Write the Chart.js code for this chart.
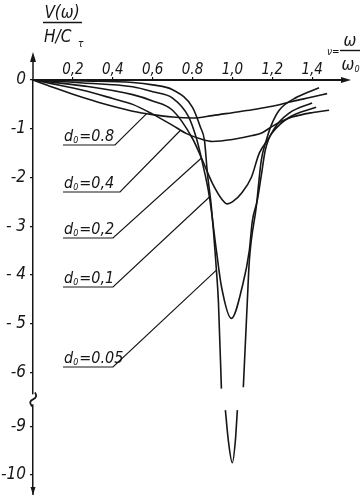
<!DOCTYPE html>
<html>
<head>
<meta charset="utf-8">
<script src="https://cdn.jsdelivr.net/npm/chart.js@4.4.0/dist/chart.umd.min.js"></script>
<style>
  html, body { margin: 0; padding: 0; background: #fff; }
  canvas { display: block; }
</style>
</head>
<body>
<canvas id="chart" width="360" height="495"></canvas>
<script>
// damping labels, one per curve
const dampings = ['0.8', '0,4', '0,2', '0,1', '0.05'];

// nu = omega/omega0, v = V(omega)/(H/C)
const nu08 = [0, 0.1, 0.2, 0.3, 0.4, 0.5, 0.6, 0.7, 0.8, 0.9, 1.0, 1.1, 1.2, 1.3, 1.4, 1.475];
const v08  = [0, -0.15, -0.29, -0.42, -0.54, -0.64, -0.71, -0.76, -0.78, -0.73, -0.67, -0.61, -0.54, -0.44, -0.35, -0.28];

const nu04 = [0, 0.1, 0.25, 0.4, 0.5, 0.6, 0.7, 0.77, 0.85, 0.9, 1.0, 1.1, 1.15, 1.2, 1.25, 1.3, 1.4, 1.485];
const v04  = [0, -0.08, -0.21, -0.38, -0.5, -0.7, -0.93, -1.1, -1.22, -1.26, -1.22, -1.14, -1.08, -0.95, -0.84, -0.76, -0.67, -0.62];

const nu02 = [0, 0.25, 0.5, 0.6, 0.7, 0.8, 0.845, 0.9, 0.95, 0.975, 1.0, 1.05, 1.095, 1.135, 1.175, 1.2, 1.28, 1.42];
const v02  = [0, -0.12, -0.3, -0.43, -0.62, -1.2, -1.6, -2.12, -2.46, -2.54, -2.5, -2.3, -2.0, -1.5, -1.24, -1.08, -0.78, -0.56];

const nu01 = [0, 0.25, 0.5, 0.6, 0.7, 0.78, 0.82, 0.85, 0.885, 0.92, 0.945, 0.995, 1.05, 1.085, 1.1, 1.125, 1.145, 1.165, 1.21, 1.285, 1.4];
const v01  = [0, -0.06, -0.14, -0.24, -0.37, -0.75, -1.2, -1.7, -2.4, -3.5, -4.23, -4.89, -4.23, -3.5, -2.9, -2.47, -1.96, -1.44, -1.0, -0.68, -0.47];

// null = where the axis is broken
const nu005 = [0, 0.25, 0.5, 0.6, 0.7, 0.8, 0.84, 0.86, 0.875, 0.895, 0.92, 0.93, 0.945, 0.955, 0.965, 0.98, 1.0, 1.015, 1.025, 1.045, 1.055, 1.075, 1.085, 1.12, 1.145, 1.17, 1.195, 1.235, 1.325, 1.435];
const v005  = [0, -0.02, -0.05, -0.1, -0.2, -0.56, -0.97, -1.24, -1.92, -2.62, -3.9, -4.54, -6.33, null, -8.67, -9.3, -9.75, -9.3, -8.67, null, -6.3, -4.54, -3.71, -2.6, -1.65, -1.24, -0.93, -0.62, -0.35, -0.16];

const xTicks = [0.2, 0.4, 0.6, 0.8, 1.0, 1.2, 1.4];
const xTickLabels = ['0,2', '0,4', '0,6', '0.8', '1,0', '1,2', '1,4'];
const yTicks = [0, -1, -2, -3, -4, -5, -6, -9, -10];
const yTickLabels = ['0', '-1', '-2', '- 3', '- 4', '- 5', '-6', '-9', '-10'];

// y axis skips from -6 to -9
const BREAK = -6.5, GAP = 1.9;
function toAxis(v) { return v === null ? null : (v < BREAK ? v + GAP : v); }
function series(nu, v) { return nu.map((n, i) => ({ x: n, y: toAxis(v[i]) })); }

const FONT = "'Liberation Sans Narrow', 'DejaVu Sans Condensed', 'DejaVu Sans', sans-serif";
const INK = '#161616';

// where the labels sit (px) and the curve point each leader goes to
const labelSpots = [
  { x0: 63, x1: 115, y: 145, tip: [0.57, -0.69] },
  { x0: 63, x1: 120, y: 192, tip: [0.74, -1.03] },
  { x0: 63, x1: 113, y: 238, tip: [0.845, -1.6] },
  { x0: 63, x1: 113, y: 287, tip: [0.885, -2.4] },
  { x0: 63, x1: 113, y: 367, tip: [0.92, -3.9] }
];

// kill the half-label padding chart.js adds at the axis ends
function noEndPadding(s) {
  s.paddingTop = 0; s.paddingBottom = 0; s.paddingLeft = 0; s.paddingRight = 0;
}

const decor = {
  id: 'decor',
  afterDraw(chart) {
    const ctx = chart.ctx, a = chart.chartArea;
    const sx = chart.scales.x, sy = chart.scales.y;
    ctx.save();
    ctx.strokeStyle = INK; ctx.fillStyle = INK;

    // y axis extensions + arrows
    ctx.lineWidth = 1.5;
    ctx.beginPath();
    ctx.moveTo(a.left, a.top); ctx.lineTo(a.left, 58);
    ctx.moveTo(a.left, a.bottom); ctx.lineTo(a.left, 495);
    ctx.stroke();
    ctx.beginPath();
    ctx.moveTo(a.left, 52); ctx.lineTo(a.left - 3, 62); ctx.lineTo(a.left + 3, 62); ctx.closePath();
    ctx.fill();
    ctx.beginPath();
    ctx.moveTo(a.left, 495); ctx.lineTo(a.left - 2.5, 487); ctx.lineTo(a.left + 2.5, 487); ctx.closePath();
    ctx.fill();
    // x axis arrow
    ctx.beginPath();
    ctx.moveTo(a.right + 4, a.top); ctx.lineTo(a.right - 6, a.top - 3); ctx.lineTo(a.right - 6, a.top + 3); ctx.closePath();
    ctx.fill();

    // axis break mark
    const yb = (sy.getPixelForValue(-6) + sy.getPixelForValue(toAxis(-9))) / 2;
    ctx.fillStyle = '#fff';
    ctx.fillRect(a.left - 2, yb - 5, 4, 10);
    ctx.fillStyle = INK;
    ctx.lineWidth = 1.8;
    ctx.beginPath();
    ctx.moveTo(a.left + 2, yb - 7);
    ctx.quadraticCurveTo(a.left + 5, yb - 2, a.left, yb);
    ctx.quadraticCurveTo(a.left - 5, yb + 2, a.left - 1, yb + 7);
    ctx.stroke();

    // y title: V(w) over H/C_t
    ctx.font = 'italic 17px ' + FONT;
    ctx.textAlign = 'center'; ctx.textBaseline = 'alphabetic';
    ctx.fillText('V(ω)', 62, 18);
    ctx.lineWidth = 1.4;
    ctx.beginPath(); ctx.moveTo(43, 22.5); ctx.lineTo(82, 22.5); ctx.stroke();
    ctx.textAlign = 'left';
    ctx.fillText('H/C', 44, 42);
    ctx.font = 'italic 10px ' + FONT;
    ctx.fillText('τ', 78, 47);

    // x title: nu = w/w0
    ctx.font = 'italic 10px ' + FONT;
    ctx.fillText('ν=', 327, 55);
    ctx.font = 'italic 17px ' + FONT;
    ctx.textAlign = 'center';
    ctx.fillText('ω', 350, 46);
    ctx.beginPath(); ctx.moveTo(340, 50.5); ctx.lineTo(360, 50.5); ctx.stroke();
    ctx.fillText('ω', 348, 70);
    ctx.font = 'italic 9px ' + FONT;
    ctx.fillText('0', 357, 72);

    // damping labels with leader lines
    ctx.lineWidth = 1.2;
    labelSpots.forEach((s, i) => {
      const tx = sx.getPixelForValue(s.tip[0]);
      const ty = sy.getPixelForValue(toAxis(s.tip[1]));
      ctx.beginPath();
      ctx.moveTo(s.x0, s.y); ctx.lineTo(s.x1, s.y); ctx.lineTo(tx, ty);
      ctx.stroke();
      ctx.textAlign = 'left';
      ctx.font = 'italic 16px ' + FONT;
      ctx.fillText('d', s.x0 + 1, s.y - 4);
      const dw = ctx.measureText('d').width;
      ctx.font = 'italic 9px ' + FONT;
      ctx.fillText('0', s.x0 + 1 + dw, s.y - 2);
      const zw = ctx.measureText('0').width;
      ctx.font = 'italic 16px ' + FONT;
      ctx.fillText('=' + dampings[i], s.x0 + 1 + dw + zw + 1, s.y - 4);
    });
    ctx.restore();
  }
};

const lineStyle = {
  borderColor: INK, borderWidth: 1.6, pointRadius: 0, fill: false,
  cubicInterpolationMode: 'monotone', clip: false, spanGaps: false
};

new Chart(document.getElementById('chart'), {
  type: 'line',
  data: {
    datasets: [
      Object.assign({ label: 'd0=0.8', data: series(nu08, v08) }, lineStyle),
      Object.assign({ label: 'd0=0.4', data: series(nu04, v04) }, lineStyle),
      Object.assign({ label: 'd0=0.2', data: series(nu02, v02) }, lineStyle),
      Object.assign({ label: 'd0=0.1', data: series(nu01, v01) }, lineStyle),
      Object.assign({ label: 'd0=0.05', data: series(nu005, v005) }, lineStyle)
    ]
  },
  options: {
    responsive: false,
    animation: false,
    layout: { padding: { top: 0, right: 13, bottom: 3, left: 0 } },
    plugins: { legend: { display: false }, tooltip: { enabled: false } },
    scales: {
      x: {
        type: 'linear', position: 'top', min: 0, max: 1.575,
        afterFit: s => { s.height = 80; noEndPadding(s); },
        afterBuildTicks: s => { s.ticks = xTicks.map(v => ({ value: v })); },
        ticks: {
          callback: (v, i) => xTickLabels[i], color: INK, padding: -2,
          maxRotation: 0, autoSkip: false,
          font: { family: FONT, size: 15, style: 'italic' }
        },
        grid: { drawOnChartArea: false, tickLength: 3, color: INK, lineWidth: 1.2 },
        border: { color: INK, width: 2 }
      },
      y: {
        type: 'linear', min: -8.45, max: 0,
        afterFit: s => { s.width = 33; noEndPadding(s); },
        afterBuildTicks: s => { s.ticks = yTicks.map(v => ({ value: toAxis(v) })); },
        ticks: {
          callback: (v, i) => yTickLabels[i], color: INK, padding: 4,
          autoSkip: false,
          font: { family: FONT, size: 17, style: 'italic' }
        },
        grid: { drawOnChartArea: false, tickLength: 3, color: INK, lineWidth: 1.2 },
        border: { color: INK, width: 1.5 }
      }
    }
  },
  plugins: [decor]
});
</script>
</body>
</html>
